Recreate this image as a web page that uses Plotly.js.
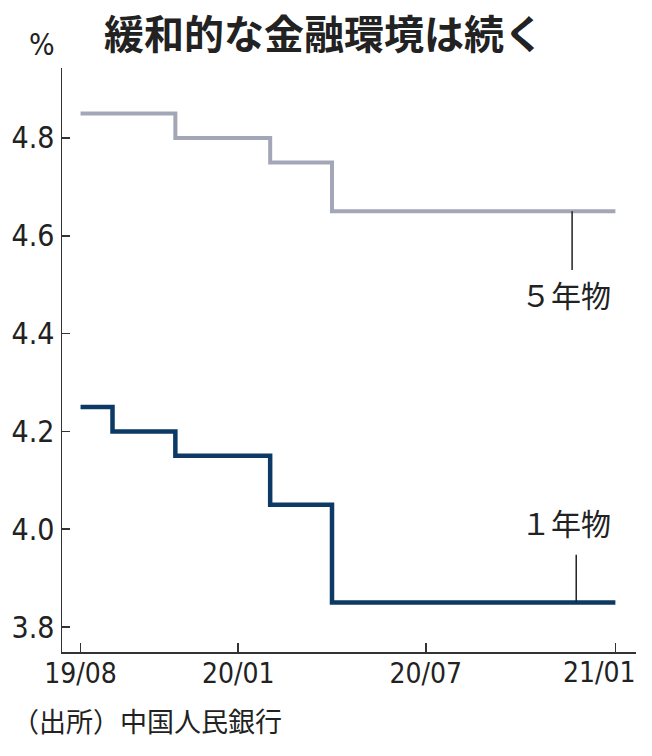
<!DOCTYPE html>
<html>
<head>
<meta charset="utf-8">
<script src="https://cdn.plot.ly/plotly-3.0.1.min.js"></script>
<style>html,body{margin:0;padding:0;background:#fff;}#chart{width:652px;height:756px;}</style>
</head>
<body>
<div id="chart"></div>
<script>
const months = ['2019-08-01','2019-09-01','2019-10-01','2019-11-01','2019-12-01','2020-01-01','2020-02-01','2020-03-01','2020-04-01','2020-05-01','2020-06-01','2020-07-01','2020-08-01','2020-09-01','2020-10-01','2020-11-01','2020-12-01','2021-01-01'];
const oneYear = [4.25,4.20,4.20,4.15,4.15,4.15,4.05,4.05,3.85,3.85,3.85,3.85,3.85,3.85,3.85,3.85,3.85,3.85];
const fiveYear = [4.85,4.85,4.85,4.80,4.80,4.80,4.75,4.75,4.65,4.65,4.65,4.65,4.65,4.65,4.65,4.65,4.65,4.65];
const xTickVals = ['2019-08-01','2020-01-01','2020-07-01','2021-01-01'];
const xTickText = ['19/08','20/01','20/07','21/01'];
const yTickVals = [3.8,4.0,4.2,4.4,4.6,4.8];
const yTickText = ['3.8','4.0','4.2','4.4','4.6','4.8'];
const labelFive = '５年物';
const labelOne = '１年物';
const titleText = '緩和的な金融環境は続く';
const sourceText = '（出所）中国人民銀行';

const numFont = '"Liberation Sans Narrow", "DejaVu Sans Condensed", "Noto Sans", sans-serif';
const jpFont = '"Noto Sans CJK JP", sans-serif';

const traces = [
  {x: months, y: fiveYear, mode: 'lines', line: {shape: 'hv', color: '#a3a6b6', width: 4}, hoverinfo: 'none'},
  {x: months, y: oneYear, mode: 'lines', line: {shape: 'hv', color: '#0c3a64', width: 4.5}, hoverinfo: 'none'}
];

// last tick label is drawn as an annotation so it can sit slightly left of its tick (as in the original)
const lastIdx = xTickVals.length - 1;
const axisTickText = xTickText.map((t, i) => i === lastIdx ? '' : t);

const layout = {
  width: 652, height: 756,
  margin: {l: 62, r: 16, t: 68, b: 104},
  paper_bgcolor: '#fff', plot_bgcolor: '#fff',
  showlegend: false,
  title: {text: '<b>' + titleText + '</b>', font: {family: jpFont, size: 40, color: '#222'}, x: 0.497, xanchor: 'center', yref: 'container', y: 1 - 35/756, yanchor: 'middle'},
  xaxis: {
    type: 'date', range: ['2019-07-14', '2021-01-21'],
    tickvals: xTickVals, ticktext: axisTickText,
    ticks: 'inside', ticklen: 9, tickwidth: 1.5, tickcolor: '#333',
    showline: true, linecolor: '#333', linewidth: 1.5,
    showgrid: false, zeroline: false,
    ticklabelstandoff: -4,
    tickfont: {family: numFont, size: 28, color: '#222'}
  },
  yaxis: {
    range: [3.749, 4.943],
    tickvals: yTickVals, ticktext: yTickText,
    ticks: 'inside', ticklen: 8, tickwidth: 1.5, tickcolor: '#333',
    showline: true, linecolor: '#333', linewidth: 1.5,
    showgrid: false, zeroline: false,
    ticklabeloverflow: 'allow',
    tickfont: {family: numFont, size: 30, color: '#222'}
  },
  shapes: [
    {type: 'line', xref: 'x', yref: 'y', x0: '2020-11-20', x1: '2020-11-20', y0: 4.65, y1: 4.53, line: {color: '#222', width: 1.5}},
    {type: 'line', xref: 'x', yref: 'y', x0: '2020-11-24', x1: '2020-11-24', y0: 3.948, y1: 3.85, line: {color: '#222', width: 1.5}}
  ],
  annotations: [
    {text: xTickText[lastIdx], xref: 'x', yref: 'paper', x: xTickVals[lastIdx], y: 0, yshift: -20, xshift: -16, xanchor: 'center', yanchor: 'middle', showarrow: false, font: {family: numFont, size: 28, color: '#222'}},
    {text: labelFive, xref: 'x', yref: 'y', x: '2020-11-14', y: 4.48, showarrow: false, font: {family: jpFont, size: 30, color: '#222'}, xanchor: 'center', yanchor: 'middle'},
    {text: labelOne, xref: 'x', yref: 'y', x: '2020-11-14', y: 4.014, showarrow: false, font: {family: jpFont, size: 30, color: '#222'}, xanchor: 'center', yanchor: 'middle'},
    {text: '%', xref: 'paper', yref: 'paper', x: -20/574, y: 1 + 24/584, xanchor: 'center', yanchor: 'middle', showarrow: false, font: {family: numFont, size: 30, color: '#222'}},
    {text: sourceText, xref: 'paper', yref: 'paper', x: -52/574, y: -68/584, xanchor: 'left', yanchor: 'middle', showarrow: false, font: {family: jpFont, size: 27, color: '#222'}}
  ]
};

Plotly.newPlot('chart', traces, layout, {staticPlot: true, displayModeBar: false});
</script>
</body>
</html>
